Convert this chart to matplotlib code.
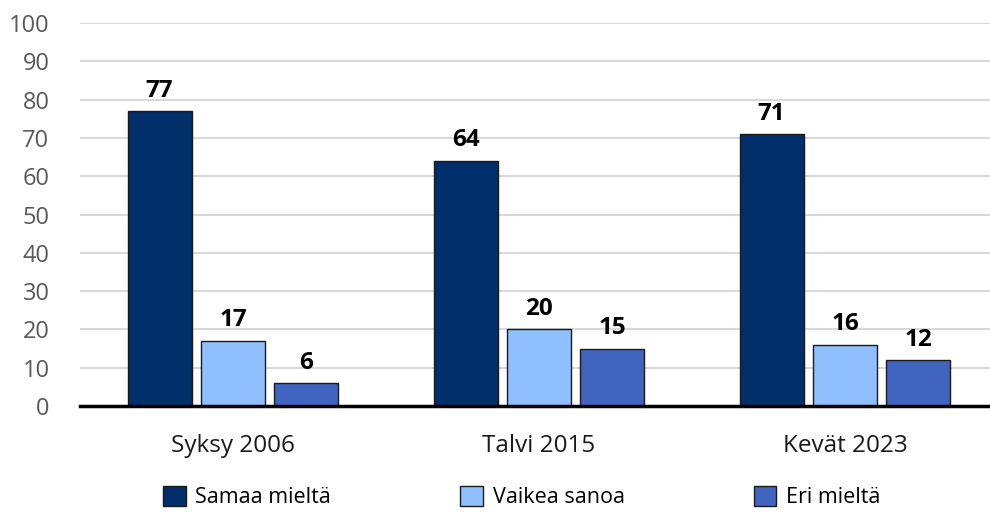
import matplotlib
matplotlib.use("Agg")
import matplotlib.pyplot as plt
import numpy as np

# data ------------------
CATEGORIES = ["Syksy 2006", "Talvi 2015", "Kevät 2023"]
SERIES = ["Samaa mieltä", "Vaikea sanoa", "Eri mieltä"]
SAMAA = [77, 64, 71]
VAIKEA = [17, 20, 16]
ERI = [6, 15, 12]
Y_TICKS = [0, 10, 20, 30, 40, 50, 60, 70, 80, 90, 100]

COLORS = ["#002f6c", "#8fbfff", "#4064c0"]

plt.rcParams["font.family"] = ["Open Sans", "DejaVu Sans"]

fig = plt.figure(figsize=(9.9, 5.13), dpi=100)
ax = fig.add_axes([80 / 990, 1 - 406 / 513, 910 / 990, 383 / 513])

x = np.arange(len(CATEGORIES))
width = 0.209
pitch = 0.24

for i, (vals, name) in enumerate(zip([SAMAA, VAIKEA, ERI], SERIES)):
    pos = x + (i - 1) * pitch
    bars = ax.bar(pos, vals, width, color=COLORS[i], edgecolor="#1a1a1a",
                  linewidth=1.0, label=name, zorder=3)
    for b, v in zip(bars, vals):
        ax.text(b.get_x() + b.get_width() / 2, v + 2.2, str(v), ha="center",
                va="bottom", fontsize=17.5, fontweight="bold", color="black")

ax.set_xlim(-0.5, 2.5 - 8 / 306)
ax.set_ylim(0, 100)
ax.set_yticks(Y_TICKS)
ax.tick_params(axis="y", length=0, labelsize=17, labelcolor="#595959", pad=22)
ax.set_xticks(x)
ax.set_xticklabels(CATEGORIES)
ax.tick_params(axis="x", length=0, labelsize=17.5, labelcolor="#1a1a1a", pad=20)
ax.yaxis.grid(True, color="#d9d9d9", linewidth=1.5, zorder=0)
for s in ["top", "right", "left"]:
    ax.spines[s].set_visible(False)
ax.spines["bottom"].set_linewidth(2.5)
ax.spines["bottom"].set_color("black")
ax.spines["bottom"].set_zorder(4)

leg = fig.legend(loc="center", bbox_to_anchor=(0.527, 1 - 497 / 513), ncol=3,
                 frameon=False, fontsize=15.5, handlelength=1.05, handleheight=1.05,
                 handletextpad=0.45, columnspacing=6.0)

fig.savefig("out.png", dpi=100)
